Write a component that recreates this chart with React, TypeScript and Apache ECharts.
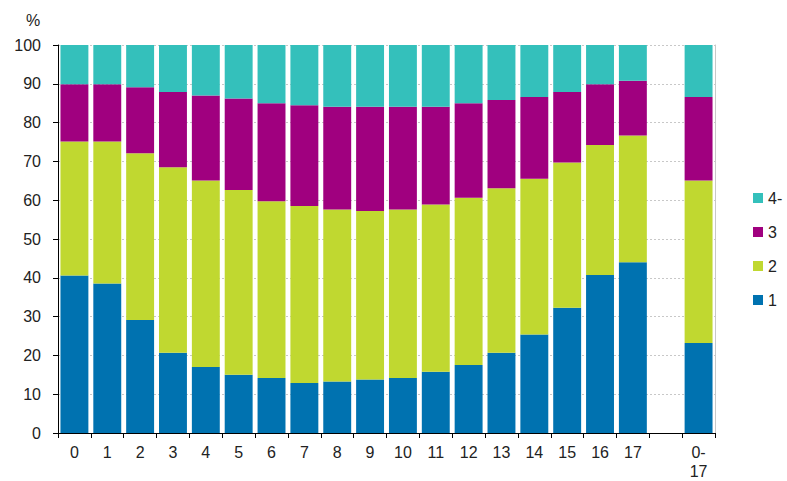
import React, { useEffect, useRef } from "react";
import * as echarts from "echarts";

const categories = ["0", "1", "2", "3", "4", "5", "6", "7", "8", "9", "10", "11", "12", "13", "14", "15", "16", "17", "", "0-\n17"];
const s1 = [40.6, 38.5, 29.1, 20.7, 17.0, 15.0, 14.2, 12.9, 13.3, 13.8, 14.2, 15.8, 17.5, 20.7, 25.4, 32.3, 40.7, 44.0, null, 23.2];
const s2 = [34.5, 36.6, 43.0, 47.8, 48.1, 47.6, 45.5, 45.6, 44.3, 43.4, 43.4, 43.1, 43.1, 42.4, 40.1, 37.4, 33.5, 32.7, null, 41.9];
const s3 = [14.8, 14.8, 17.0, 19.4, 21.9, 23.6, 25.3, 26.0, 26.5, 26.9, 26.5, 25.2, 24.4, 22.7, 21.1, 18.2, 15.7, 14.1, null, 21.5];
const s4 = [10.1, 10.1, 10.9, 12.1, 13.0, 13.8, 15.0, 15.5, 15.9, 15.9, 15.9, 15.9, 15.0, 14.2, 13.4, 12.1, 10.1, 9.2, null, 13.4];
const seriesNames = ["1", "2", "3", "4-"];
const colors = ["#0072B0", "#C0D830", "#A0007F", "#34C0BB"];

export default function App() {
  const ref = useRef<HTMLDivElement>(null);
  useEffect(() => {
    if (!ref.current) return;
    const chart = echarts.init(ref.current, undefined, { renderer: "svg" });
    const font = "'Liberation Sans', Arial, sans-serif";
    const data = [s1, s2, s3, s4];
    chart.setOption({
      animation: false,
      textStyle: { fontFamily: font },
      grid: { left: 58, right: 72, top: 45, bottom: 48, outerBoundsMode: "none", containLabel: false },
      legend: {
        orient: "vertical",
        left: 753,
        top: 190,
        padding: 0,
        data: ["4-", "3", "2", "1"],
        icon: "rect",
        itemWidth: 10,
        itemHeight: 10,
        itemGap: 18,
        textStyle: { fontSize: 16, color: "#222", fontFamily: font },
      },
      graphic: [
        { type: "text", left: 26, top: 12, style: { text: "%", fontSize: 16, fill: "#222", fontFamily: font } },
      ],
      xAxis: {
        type: "category",
        data: categories,
        axisLine: { lineStyle: { color: "#000", width: 1 } },
        axisTick: { show: true, length: 5, lineStyle: { color: "#000" } },
        axisLabel: { fontSize: 16, color: "#222", margin: 10, lineHeight: 19, interval: 0 },
      },
      yAxis: [
        {
          type: "value",
          min: 0,
          max: 100,
          interval: 10,
          axisLine: { show: true, lineStyle: { color: "#000" } },
          axisTick: { show: true, length: 5, lineStyle: { color: "#000" } },
          axisLabel: { fontSize: 16, color: "#222", margin: 17 },
          splitLine: { lineStyle: { color: "#c8c8c8", type: [2, 2] } },
        },
        {
          type: "value",
          position: "right",
          min: 0,
          max: 100,
          interval: 10,
          axisLine: { show: true, lineStyle: { color: "#c8c8c8" } },
          axisTick: { show: false },
          axisLabel: { show: false },
          splitLine: { show: false },
        },
      ],
      series: seriesNames.map((name, i) => ({
        name,
        type: "bar",
        stack: "total",
        data: data[i],
        barCategoryGap: "15%",
        itemStyle: { color: colors[i] },
      })),
    });
    return () => chart.dispose();
  }, []);
  return <div ref={ref} style={{ width: 787, height: 481, position: "absolute", left: 0, top: 0 }} />;
}
